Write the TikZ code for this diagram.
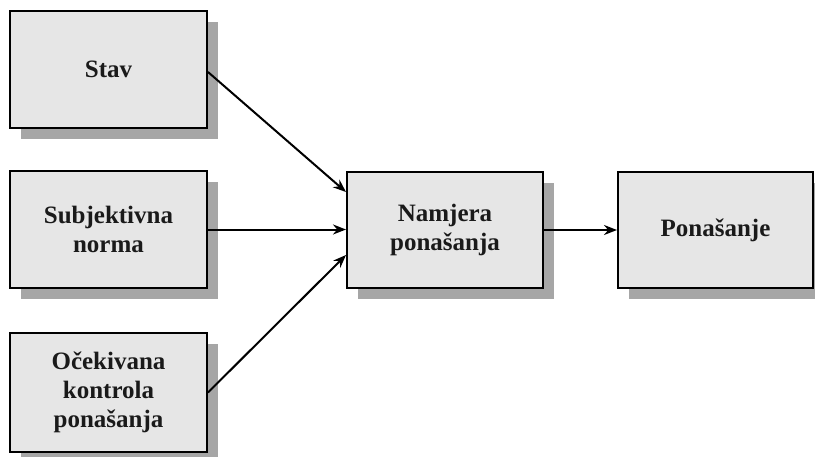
\documentclass[tikz,border=0pt]{standalone}
\usepackage{fontspec}
\setmainfont{Liberation Serif}
\usetikzlibrary{arrows.meta,shadows}
\definecolor{boxfill}{HTML}{E6E6E6}
\definecolor{shadowgray}{HTML}{A6A6A6}
\definecolor{textblack}{HTML}{1A1A1A}
\tikzset{
  box/.style={draw=black, line width=2pt, fill=boxfill,
    minimum width=197pt, minimum height=117pt, inner sep=0pt,
    align=center, font=\fontsize{25}{29}\selectfont\bfseries, text=textblack,
    drop shadow={shadow xshift=11pt, shadow yshift=-11pt, fill=shadowgray, opacity=1}},
  conn/.style={line width=2pt, -{Stealth[length=13pt,width=10pt]}}
}
\begin{document}
\begin{tikzpicture}[x=1pt,y=-1pt]
\clip (0,0) rectangle (815,456);
\useasboundingbox (0,0) rectangle (815,456);
\node[box] (stav) at (108.5,69.5) {Stav};
\node[box] (subj) at (108.5,229.5) {Subjektivna\\norma};
\node[box, minimum height=119pt] (ocek) at (108.5,392.5) {Očekivana\\kontrola\\ponašanja};
\node[box, minimum width=196pt, minimum height=116pt] (nam) at (445,230) {Namjera\\ponašanja};
\node[box, minimum width=195pt, minimum height=116pt] (pon) at (715.5,230) {Ponašanje};
\coordinate (s1) at ([yshift=-2.5pt]stav.east);
\coordinate (n1) at ([yshift=38pt]nam.west);
\coordinate (n3) at ([yshift=-25pt]nam.west);
\draw[conn] (s1) -- (n1);
\draw[conn] (subj.east) -- (subj.east -| nam.west);
\draw[conn] (ocek.east) -- (n3);
\draw[conn] (nam.east) -- (pon.west);
\end{tikzpicture}
\end{document}
